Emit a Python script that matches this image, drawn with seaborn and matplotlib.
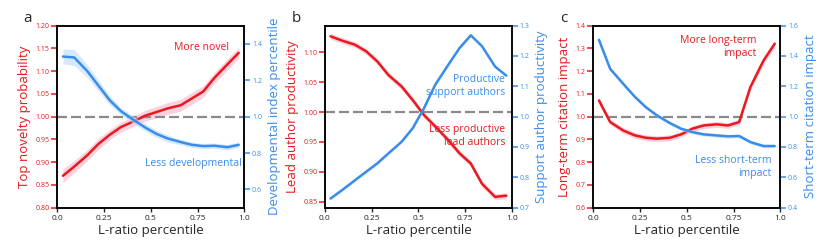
import matplotlib
matplotlib.use("Agg")
import matplotlib.pyplot as plt
import pandas as pd
import seaborn as sns

RED = "#e8191f"
BLUE = "#3a8ceb"
RED_BAND = "#f7b3c8"
BLUE_BAND = "#b9dbfa"

# L-ratio percentile bin centres (shared by all panels)
pct = [0.03, 0.09, 0.16, 0.22, 0.28, 0.34, 0.41, 0.47,
       0.53, 0.59, 0.66, 0.72, 0.78, 0.84, 0.91, 0.97]

# panel a
novelty = [0.870, 0.890, 0.915, 0.940, 0.960, 0.977, 0.990, 1.002,
           1.010, 1.018, 1.025, 1.040, 1.055, 1.085, 1.115, 1.140]
novelty_ci = [0.015, 0.013, 0.012, 0.012, 0.011, 0.011, 0.011, 0.012,
              0.012, 0.013, 0.013, 0.013, 0.012, 0.012, 0.012, 0.012]
develop = [1.330, 1.325, 1.250, 1.170, 1.090, 1.030, 0.980, 0.940,
           0.905, 0.880, 0.860, 0.845, 0.838, 0.840, 0.832, 0.845]
develop_ci = [0.040, 0.045, 0.035, 0.030, 0.025, 0.020, 0.020, 0.020,
              0.020, 0.020, 0.015, 0.015, 0.015, 0.015, 0.015, 0.015]

# panel b
lead_prod = [1.127, 1.120, 1.113, 1.102, 1.085, 1.062, 1.043, 1.020,
             0.995, 0.976, 0.953, 0.931, 0.914, 0.880, 0.858, 0.860]
lead_ci = [0.005] * 16
support_prod = [0.730, 0.757, 0.790, 0.818, 0.846, 0.879, 0.917, 0.962,
                1.028, 1.105, 1.171, 1.226, 1.268, 1.232, 1.165, 1.135]
support_ci = [0.004] * 16

# panel c
long_cit = [1.071, 0.976, 0.939, 0.918, 0.907, 0.903, 0.907, 0.922,
            0.947, 0.961, 0.966, 0.961, 0.976, 1.130, 1.246, 1.320]
long_ci = [0.014, 0.013, 0.013, 0.013, 0.013, 0.013, 0.013, 0.013,
           0.013, 0.013, 0.013, 0.013, 0.013, 0.015, 0.016, 0.016]
short_cit = [1.506, 1.315, 1.216, 1.133, 1.063, 1.008, 0.957, 0.920,
             0.898, 0.883, 0.876, 0.870, 0.872, 0.832, 0.806, 0.806]
short_ci = [0.012] * 16

xticks = [0.0, 0.25, 0.5, 0.75, 1.0]
xticklabels = ["0.0", "0.25", "0.5", "0.75", "1.0"]

panels = [
    dict(letter="a", left=novelty, left_ci=novelty_ci, right=develop, right_ci=develop_ci,
         left_label="Top novelty probability", right_label="Developmental index percentile",
         left_lim=(0.80, 1.20), left_ticks=[0.80, 0.85, 0.90, 0.95, 1.00, 1.05, 1.10, 1.15, 1.20],
         left_fmt="{:.2f}", right_lim=(0.5, 1.5), right_ticks=[0.6, 0.8, 1.0, 1.2, 1.4],
         right_fmt="{:.1f}",
         notes=[("More novel", 0.77, 1.152, RED, "center"),
                ("Less developmental", 0.73, 0.897, BLUE, "center")]),
    dict(letter="b", left=lead_prod, left_ci=lead_ci, right=support_prod, right_ci=support_ci,
         left_label="Lead author productivity", right_label="Support author productivity",
         left_lim=(0.84, 1.145), left_ticks=[0.85, 0.90, 0.95, 1.00, 1.05, 1.10],
         left_fmt="{:.2f}", right_lim=(0.7, 1.3), right_ticks=[0.7, 0.8, 0.9, 1.0, 1.1, 1.2, 1.3],
         right_fmt="{:.1f}",
         notes=[("Productive\nsupport authors", 0.965, 1.044, BLUE, "right"),
                ("Less productive\nlead authors", 0.965, 0.960, RED, "right")]),
    dict(letter="c", left=long_cit, left_ci=long_ci, right=short_cit, right_ci=short_ci,
         left_label="Long-term citation impact", right_label="Short-term citation impact",
         left_lim=(0.6, 1.4), left_ticks=[0.6, 0.7, 0.8, 0.9, 1.0, 1.1, 1.2, 1.3, 1.4],
         left_fmt="{:.1f}", right_lim=(0.4, 1.6), right_ticks=[0.4, 0.6, 0.8, 1.0, 1.2, 1.4, 1.6],
         right_fmt="{:.1f}",
         notes=[("More long-term\nimpact", 0.87, 1.305, RED, "right"),
                ("Less short-term\nimpact", 0.955, 0.779, BLUE, "right")]),
]

lefts = [0.069, 0.391, 0.714]


def draw_panel(fig, left, p):
    ax = fig.add_axes([left, 0.156, 0.225, 0.740])
    df = pd.DataFrame({"pct": pct, "left": p["left"], "right": p["right"]})
    lo = [v - c for v, c in zip(p["left"], p["left_ci"])]
    hi = [v + c for v, c in zip(p["left"], p["left_ci"])]
    ax.fill_between(pct, lo, hi, color=RED_BAND, alpha=0.6, lw=0)
    ax.axhline(1.0, color="#8a8a8a", lw=1.6, dashes=(4.5, 1.8), zorder=1)
    sns.lineplot(data=df, x="pct", y="left", ax=ax, color=RED, lw=1.8, zorder=3)

    ax2 = ax.twinx()
    lo = [v - c for v, c in zip(p["right"], p["right_ci"])]
    hi = [v + c for v, c in zip(p["right"], p["right_ci"])]
    ax2.fill_between(pct, lo, hi, color=BLUE_BAND, alpha=0.6, lw=0)
    sns.lineplot(data=df, x="pct", y="right", ax=ax2, color=BLUE, lw=1.8, zorder=3)

    ax.set_xlim(0, 1)
    ax.set_xticks(xticks)
    ax.set_xticklabels(xticklabels)
    ax.tick_params(axis="x", labelsize=6, length=3, width=1, pad=2)
    ax.set_xlabel("L-ratio percentile", fontsize=9.5, labelpad=2)

    ax.set_ylim(*p["left_lim"])
    ax.set_yticks(p["left_ticks"])
    ax.set_yticklabels([p["left_fmt"].format(t) for t in p["left_ticks"]])
    ax.tick_params(axis="y", colors=RED, labelsize=5, length=4, width=1.1, pad=1.5)
    ax.set_ylabel(p["left_label"], color=RED, fontsize=9.5, labelpad=3)

    ax2.set_ylim(*p["right_lim"])
    ax2.set_yticks(p["right_ticks"])
    ax2.set_yticklabels([p["right_fmt"].format(t) for t in p["right_ticks"]])
    ax2.tick_params(axis="y", colors=BLUE, labelsize=5, length=4, width=1.1, pad=1.5)
    ax2.set_ylabel(p["right_label"], color=BLUE, fontsize=9.5, labelpad=4)

    for a in (ax, ax2):
        for s in a.spines.values():
            s.set_color("black")
            s.set_linewidth(1.1)

    for text, x, y, c, ha in p["notes"]:
        ax.text(x, y, text, color=c, fontsize=7.5, ha=ha, va="center",
                multialignment=ha if ha != "center" else "center", zorder=5)

    ax.text(-0.18, 1.08, p["letter"], transform=ax.transAxes, fontsize=11,
            ha="left", va="top")


sns.set_style("ticks")
plt.rcParams["font.family"] = ["Open Sans", "DejaVu Sans"]

fig = plt.figure(figsize=(8.31, 2.46), dpi=100)
for left, p in zip(lefts, panels):
    draw_panel(fig, left, p)

fig.savefig("out.png", dpi=100)
